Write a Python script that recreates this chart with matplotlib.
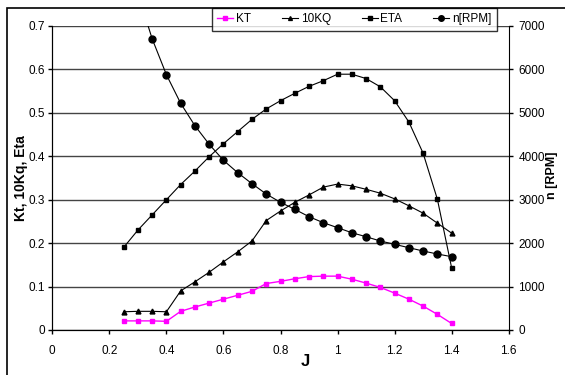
import matplotlib
matplotlib.use("Agg")
import matplotlib.pyplot as plt
from matplotlib.patches import Rectangle

plt.rcParams['font.family'] = ['Liberation Sans', 'DejaVu Sans']

J = [0.25, 0.30, 0.35, 0.40, 0.45, 0.50, 0.55, 0.60, 0.65, 0.70, 0.75, 0.80,
     0.85, 0.90, 0.95, 1.00, 1.05, 1.10, 1.15, 1.20, 1.25, 1.30, 1.35, 1.40]
kt = [0.021, 0.021, 0.021, 0.020, 0.043, 0.053, 0.062, 0.071, 0.080, 0.089, 0.107, 0.112,
      0.118, 0.123, 0.124, 0.124, 0.117, 0.108, 0.098, 0.085, 0.071, 0.055, 0.036, 0.015]
kq10 = [0.042, 0.043, 0.043, 0.042, 0.090, 0.111, 0.133, 0.157, 0.180, 0.205, 0.252, 0.274,
        0.294, 0.311, 0.329, 0.336, 0.332, 0.324, 0.315, 0.302, 0.286, 0.269, 0.246, 0.223]
eta = [0.190, 0.230, 0.265, 0.300, 0.335, 0.366, 0.399, 0.429, 0.457, 0.485, 0.509, 0.528,
       0.545, 0.561, 0.574, 0.589, 0.589, 0.579, 0.560, 0.528, 0.479, 0.407, 0.301, 0.143]
J_n = J[1:]
rpm = [7750, 6707, 5879, 5220, 4704, 4276, 3907, 3622, 3369, 3131, 2940,
       2779, 2609, 2471, 2356, 2240, 2148, 2049, 1973, 1895, 1819, 1750, 1688]

W, H = 565, 375
fig = plt.figure(figsize=(W / 100, H / 100), dpi=100)
ax = fig.add_axes([52.3 / W, 1 - 330 / H, (508.7 - 52.3) / W, (330 - 26) / H])
ax2 = ax.twinx()

# outer chart border
fig.patches.append(Rectangle((7 / W, -0.1), 1, 1.1 - 8 / H, transform=fig.transFigure,
                             fill=False, edgecolor='black', linewidth=1.2))

l1, = ax.plot(J, kt, color='#ff00ff', marker='s', markersize=3, linewidth=1, label='KT')
l2, = ax.plot(J, kq10, color='black', marker='^', markersize=3.5, linewidth=0.8, label='10KQ')
l3, = ax.plot(J, eta, color='black', marker='s', markersize=3.5, linewidth=0.8, label='ETA')
l4, = ax2.plot(J_n, rpm, color='black', marker='o', markersize=5, linewidth=0.8, label='n[RPM]')

ax.set_xlim(0, 1.6)
ax.set_ylim(0, 0.7)
ax2.set_ylim(0, 7000)
ax.set_xticks([0, 0.2, 0.4, 0.6, 0.8, 1, 1.2, 1.4, 1.6])
ax.set_xticklabels(['0', '0.2', '0.4', '0.6', '0.8', '1', '1.2', '1.4', '1.6'])
ax.set_yticks([0, 0.1, 0.2, 0.3, 0.4, 0.5, 0.6, 0.7])
ax.set_yticklabels(['0', '0.1', '0.2', '0.3', '0.4', '0.5', '0.6', '0.7'])
ax2.set_yticks(range(0, 7001, 1000))
ax.yaxis.grid(True, color='#444444', linewidth=1)
ax.set_axisbelow(True)

for a in (ax, ax2):
    a.spines['top'].set_visible(False)
    a.tick_params(labelsize=8.5, direction='out', length=3, width=1, color='black', pad=2.5)
ax.spines['right'].set_visible(False)
ax.tick_params(axis='x', pad=8)
ax2.tick_params(axis='y', pad=4)

ax.set_xlabel('J', fontsize=12, fontweight='bold')
ax.set_ylabel('Kt, 10Kq, Eta', fontsize=10, fontweight='bold')
ax2.set_ylabel('n [RPM]', fontsize=9, fontweight='bold', rotation=90)
ax.xaxis.set_label_coords(305 / W, 1 - 362 / H, transform=fig.transFigure)
ax.yaxis.set_label_coords(21 / W, 1 - 178 / H, transform=fig.transFigure)
ax2.yaxis.set_label_coords(552 / W, 1 - 175 / H, transform=fig.transFigure)
ax.xaxis.label.set_va('center')
ax.yaxis.label.set_va('center')
ax2.yaxis.label.set_va('center')

leg = ax2.legend(handles=[l1, l2, l3, l4], ncol=4, loc='upper left',
                 bbox_to_anchor=(212 / W, 1 - 8 / H), bbox_transform=fig.transFigure,
                 borderaxespad=0, fontsize=8.5, frameon=True, fancybox=False,
                 edgecolor='black', handlelength=1.35, columnspacing=2.6,
                 borderpad=0.45, handletextpad=0.25, markerscale=0.8)
leg.get_frame().set_linewidth(1)

fig.savefig('out.png', dpi=100)
